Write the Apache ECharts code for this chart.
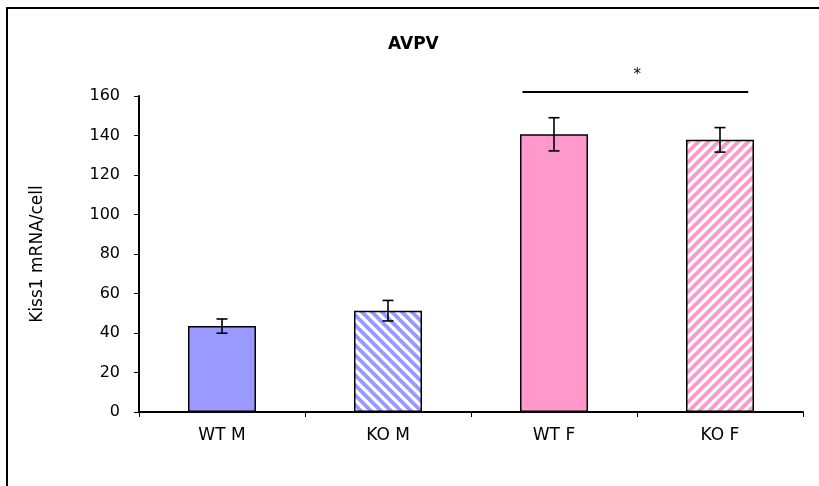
<!DOCTYPE html>
<html>
<head>
<meta charset="utf-8">
<script src="https://cdn.jsdelivr.net/npm/echarts@6/dist/echarts.min.js"></script>
<style>
  html, body { margin: 0; padding: 0; background: #fff; }
  #chart { width: 819px; height: 486px; }
</style>
</head>
<body>
<div id="chart"></div>
<script>
// Kiss1 expression in the AVPV, by genotype and sex
const categories = ['WT M', 'KO M', 'WT F', 'KO F'];
const means = [43.5, 51.3, 140.6, 137.8];
const sem = [3.6, 5.2, 8.4, 6.2];
const yTicks = [0, 20, 40, 60, 80, 100, 120, 140, 160];
// significance bracket between the two female groups
const sigPair = ['WT F', 'KO F'];
const sigLevel = 162;
const sigLabel = '*';

const BLUE = '#9999FF';
const PINK = '#FF99CC';

// diagonal hatch tile; dir = 1 draws "\" stripes, dir = -1 draws "/" stripes
function hatch(color, dir) {
  const s = 10;
  const c = document.createElement('canvas');
  c.width = s; c.height = s;
  const g = c.getContext('2d');
  g.fillStyle = '#fff';
  g.fillRect(0, 0, s, s);
  g.strokeStyle = color;
  g.lineWidth = 3.8;
  for (let k = -1; k <= 1; k++) {
    g.beginPath();
    if (dir > 0) {
      g.moveTo(-2, -2 + k * s);
      g.lineTo(s + 2, s + 2 + k * s);
    } else {
      g.moveTo(-2, s + 2 + k * s);
      g.lineTo(s + 2, -2 + k * s);
    }
    g.stroke();
  }
  return { image: c, repeat: 'repeat' };
}

const fills = [BLUE, hatch(BLUE, 1), PINK, hatch(PINK, -1)];

const chart = echarts.init(document.getElementById('chart'), null, { renderer: 'canvas' });

const font = '"DejaVu Sans", sans-serif';

chart.setOption({
  animation: false,
  backgroundColor: '#fff',
  title: {
    text: 'AVPV',
    left: 388,
    top: 36,
    padding: 0,
    textStyle: { fontFamily: font, fontSize: 17, fontWeight: 'bold', color: '#000' }
  },
  graphic: [{
    type: 'rect',
    shape: { x: 7, y: 8, width: 840, height: 520 },
    style: { fill: 'none', stroke: '#000', lineWidth: 2 },
    silent: true,
    z: 0
  }],
  grid: { left: 139, right: 16, top: 96, bottom: 74 },
  xAxis: {
    type: 'category',
    data: categories,
    axisLine: { lineStyle: { color: '#000', width: 2 } },
    axisTick: { show: true, length: 5, lineStyle: { color: '#000', width: 1 } },
    axisLabel: { fontFamily: font, fontSize: 17, color: '#000', margin: 15 }
  },
  yAxis: {
    type: 'value',
    min: 0,
    max: 160,
    interval: 20,
    name: 'Kiss1 mRNA/cell',
    nameLocation: 'middle',
    nameGap: 93,
    nameTextStyle: { fontFamily: font, fontSize: 17, color: '#000' },
    splitLine: { show: false },
    axisLine: { show: true, lineStyle: { color: '#000', width: 2 } },
    axisTick: { show: true, length: 5, lineStyle: { color: '#000', width: 1 } },
    axisLabel: {
      fontFamily: font, fontSize: 16, color: '#000', margin: 19,
      formatter: v => (yTicks.indexOf(v) >= 0 ? String(v) : '')
    }
  },
  series: [
    {
      type: 'bar',
      barWidth: 68,
      data: means.map((v, i) => ({
        value: v,
        itemStyle: { color: fills[i], borderColor: '#000', borderWidth: 1.5 }
      })),
      z: 2
    },
    {
      // SEM error bars
      type: 'custom',
      data: means.map((v, i) => [i, v, sem[i]]),
      z: 5,
      renderItem: function (params, api) {
        const x = api.value(0);
        const hi = api.coord([x, api.value(1) + api.value(2)]);
        const lo = api.coord([x, api.value(1) - api.value(2)]);
        const w = 5.5;
        const st = { stroke: '#000', lineWidth: 1.6 };
        return {
          type: 'group',
          children: [
            { type: 'line', shape: { x1: hi[0], y1: hi[1], x2: lo[0], y2: lo[1] }, style: st },
            { type: 'line', shape: { x1: hi[0] - w, y1: hi[1], x2: hi[0] + w, y2: hi[1] }, style: st },
            { type: 'line', shape: { x1: lo[0] - w, y1: lo[1], x2: lo[0] + w, y2: lo[1] }, style: st }
          ]
        };
      }
    },
    {
      // significance bracket
      type: 'custom',
      clip: false,
      data: [[categories.indexOf(sigPair[0]), categories.indexOf(sigPair[1]), sigLevel]],
      z: 5,
      renderItem: function (params, api) {
        const a = api.coord([api.value(0), api.value(2)]);
        const b = api.coord([api.value(1), api.value(2)]);
        const bw = api.size([1, 0])[0];
        const x1 = a[0] - bw * 0.19;
        const x2 = b[0] + bw * 0.17;
        return {
          type: 'group',
          children: [
            { type: 'line', shape: { x1: x1, y1: a[1], x2: x2, y2: b[1] }, style: { stroke: '#000', lineWidth: 2 } },
            {
              type: 'text',
              style: {
                text: sigLabel, x: (x1 + x2) / 2 + 2, y: a[1] - 17,
                align: 'center', verticalAlign: 'middle',
                font: '15px "DejaVu Sans", sans-serif', fill: '#000'
              }
            }
          ]
        };
      }
    }
  ]
});
</script>
</body>
</html>
